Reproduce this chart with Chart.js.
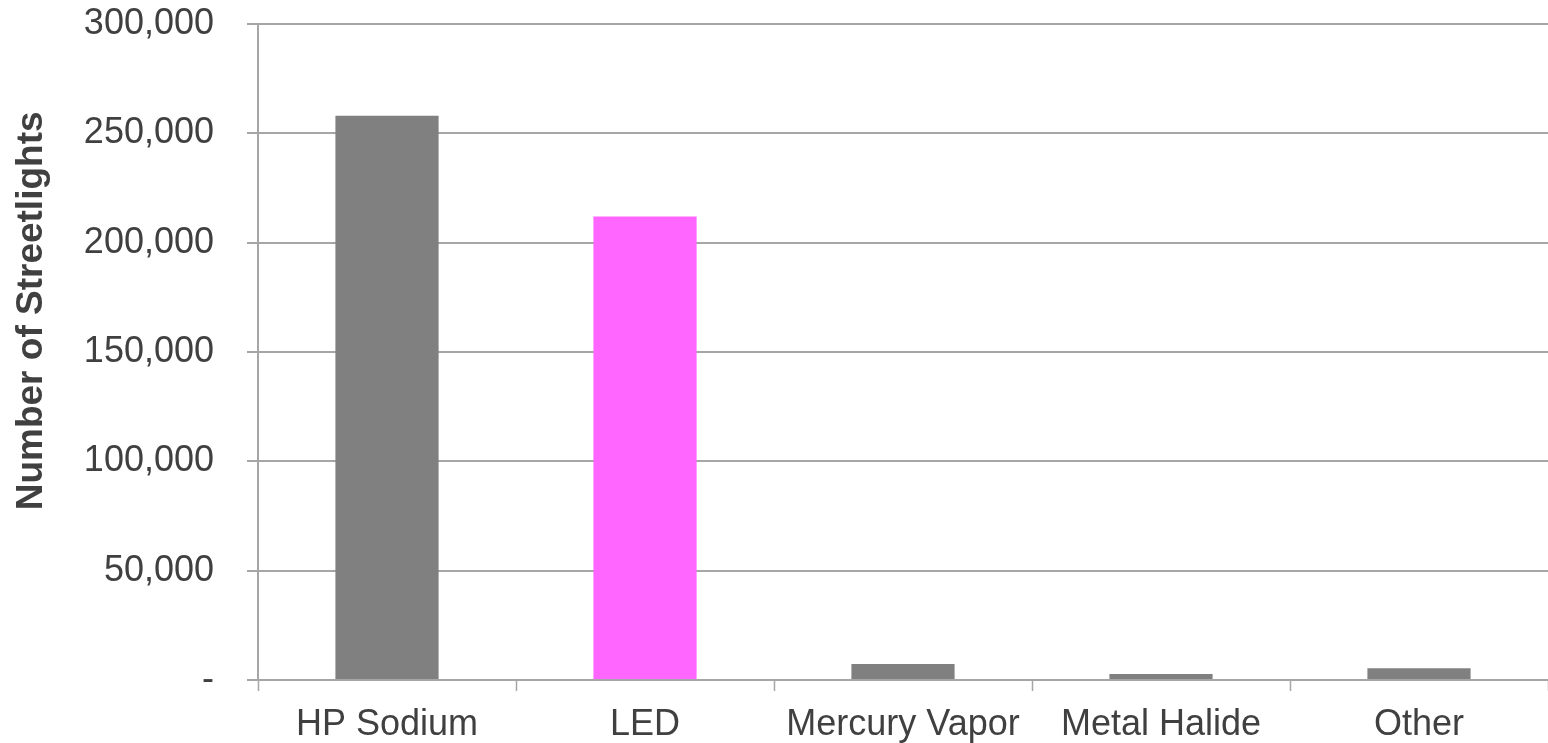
<!DOCTYPE html>
<html>
<head>
<meta charset="utf-8">
<title>Number of Streetlights by Lamp Type</title>
<script src="https://cdn.jsdelivr.net/npm/chart.js@4/dist/chart.umd.min.js"></script>
<style>
  html, body { margin: 0; padding: 0; background: #ffffff; }
  #wrap { width: 1548px; height: 743px; }
</style>
</head>
<body>
<div id="wrap"><canvas id="chart" width="1548" height="743"></canvas></div>
<script>
// Streetlight inventory by lamp technology
const categories = ['HP Sodium', 'LED', 'Mercury Vapor', 'Metal Halide', 'Other'];
const streetlights = [258000, 212000, 7300, 2700, 5400];
const barColors = ['#808080', '#ff66ff', '#808080', '#808080', '#808080'];
const yTicks = [0, 50000, 100000, 150000, 200000, 250000, 300000];
const yTitle = 'Number of Streetlights';

const textColor = '#404040';
const lineColor = '#a6a6a6';
const fontFamily = '"Liberation Sans", Arial, Helvetica, sans-serif';

new Chart(document.getElementById('chart'), {
  type: 'bar',
  data: {
    labels: categories,
    datasets: [{
      data: streetlights,
      backgroundColor: barColors,
      borderWidth: 0,
      categoryPercentage: 1.0,
      barPercentage: 0.4
    }]
  },
  options: {
    responsive: false,
    animation: false,
    layout: { padding: { top: 24, right: 0, bottom: 0, left: 0 } },
    plugins: {
      legend: { display: false },
      tooltip: { enabled: false }
    },
    scales: {
      x: {
        offset: true,
        grid: {
          offset: true,
          drawOnChartArea: false,
          drawTicks: true,
          tickLength: 11,
          tickWidth: 1.5,
          tickColor: lineColor
        },
        border: { display: true, color: lineColor, width: 2 },
        ticks: {
          color: textColor,
          padding: 12,
          maxRotation: 0,
          autoSkip: false,
          font: { family: fontFamily, size: 36 }
        },
        afterFit: (scale) => {
          scale.height = 63;
          scale.paddingLeft = 0;
          scale.paddingRight = 0;
        }
      },
      y: {
        min: yTicks[0],
        max: yTicks[yTicks.length - 1],
        afterBuildTicks: (scale) => { scale.ticks = yTicks.map(v => ({ value: v })); },
        grid: {
          color: lineColor,
          lineWidth: 2,
          drawTicks: true,
          tickLength: 11
        },
        border: { display: true, color: lineColor, width: 2 },
        ticks: {
          color: textColor,
          padding: 33,
          font: { family: fontFamily, size: 36 },
          callback: (v) => v === 0 ? '-' : v.toLocaleString('en-US')
        },
        title: {
          display: true,
          text: '        ' + yTitle,
          color: textColor,
          padding: { top: 10, bottom: 0 },
          font: { family: fontFamily, size: 37, weight: 'bold' }
        },
        afterFit: (scale) => {
          scale.width = 258;
          scale.paddingTop = 0;
          scale.paddingBottom = 0;
        }
      }
    }
  }
});
</script>
</body>
</html>
